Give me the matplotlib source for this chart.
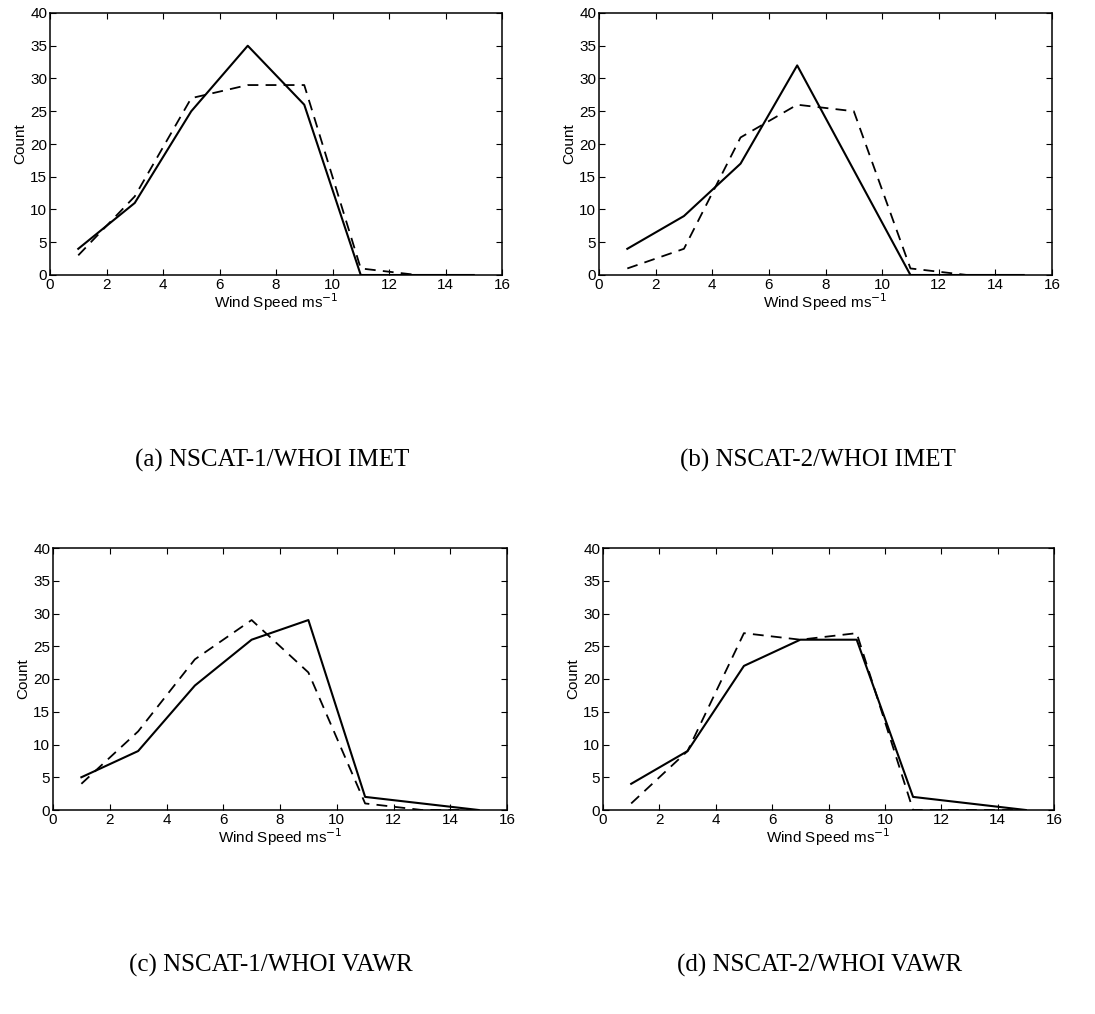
import matplotlib
matplotlib.use("Agg")
import matplotlib.pyplot as plt

# Wind speed bin centres (m/s)
windSpeed = [1, 3, 5, 7, 9, 11, 13, 15]

# Counts per panel: solid = NSCAT, dashed = buoy
solidA = [4, 11, 25, 35, 26, 0, 0, 0]
dashedA = [3, 12, 27, 29, 29, 1, 0, 0]
solidB = [4, 9, 17, 32, 16, 0, 0, 0]
dashedB = [1, 4, 21, 26, 25, 1, 0, 0]
solidC = [5, 9, 19, 26, 29, 2, 1, 0]
dashedC = [4, 12, 23, 29, 21, 1, 0, 0]
solidD = [4, 9, 22, 26, 26, 2, 1, 0]
dashedD = [1, 9, 27, 26, 27, 0, 0, 0]

captions = ["(a) NSCAT-1/WHOI IMET", "(b) NSCAT-2/WHOI IMET",
            "(c) NSCAT-1/WHOI VAWR", "(d) NSCAT-2/WHOI VAWR"]

W, H = 1095, 1014
fig = plt.figure(figsize=(W / 100, H / 100), dpi=100)

# axes boxes in pixels: left, top, right, bottom
boxes = [(50, 13, 502, 275), (599, 13, 1052, 275),
         (53, 548, 507, 810), (603, 548, 1054, 810)]
captionPos = [(272, 460), (818, 460), (271, 965), (820, 965)]
series = [(solidA, dashedA), (solidB, dashedB), (solidC, dashedC), (solidD, dashedD)]

for i in range(4):
    l, t, r, b = boxes[i]
    ax = fig.add_axes([l / W, 1 - b / H, (r - l) / W, (b - t) / H])
    solid, dashed = series[i]
    ax.plot(windSpeed, solid, color="black", lw=1.5, ls="-")
    ax.plot(windSpeed, dashed, color="black", lw=1.3, ls=(0, (6, 4)))
    ax.set_xlim(0, 16)
    ax.set_ylim(0, 40)
    ax.set_xticks(range(0, 17, 2))
    ax.set_yticks(range(0, 41, 5))
    ax.tick_params(direction="in", top=True, right=True, length=4, width=0.8,
                   labelsize=11, pad=2)
    for lab in ax.get_xticklabels() + ax.get_yticklabels():
        lab.set_family("Liberation Sans")
    for s in ax.spines.values():
        s.set_linewidth(1.1)
    ax.set_ylabel("Count", fontsize=11, family="Liberation Sans", labelpad=2)
    ax.set_xlabel("Wind Speed ms$^{-1}$", fontsize=11, family="Liberation Sans", labelpad=0)
    cx, cy = captionPos[i]
    fig.text(cx / W, 1 - cy / H, captions[i],
             ha="center", va="center", fontsize=18, family="Liberation Serif")

fig.savefig("out.png", dpi=100)
